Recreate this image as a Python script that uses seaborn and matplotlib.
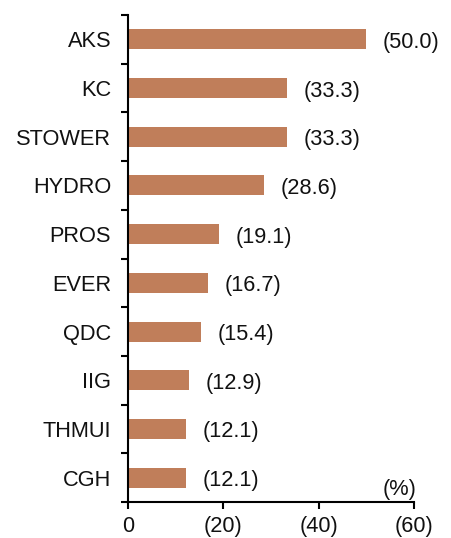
import matplotlib
matplotlib.use("Agg")
import matplotlib.pyplot as plt
import seaborn as sns
import pandas as pd
import numpy as np

categories = ["AKS", "KC", "STOWER", "HYDRO", "PROS", "EVER", "QDC", "IIG", "THMUI", "CGH"]
values = [50.0, 33.3, 33.3, 28.6, 19.1, 16.7, 15.4, 12.9, 12.1, 12.1]
xticks = [0, 20, 40, 60]
xtick_labels = ["0", "(20)", "(40)", "(60)"]

sns.set_theme(style="white")
plt.rcParams['font.family'] = ['Liberation Sans', 'DejaVu Sans']

df = pd.DataFrame({"cat": categories, "val": values})
FS = 15.7

fig = plt.figure(figsize=(4.52, 5.38), dpi=100)
ax = fig.add_axes([0.283, 0.067, 0.633, 0.905])
sns.barplot(data=df, x="val", y="cat", orient="h", color="#C07E5A", saturation=1,
            width=0.41, ax=ax, edgecolor="none")

ax.set_xlim(0, 60)
ax.set_ylim(len(categories) - 0.5, -0.5)
ax.set_xticks(xticks)
ax.set_xticklabels(xtick_labels, fontsize=FS, color="#111111")
ax.set_xlabel("")
ax.set_ylabel("")
ax.tick_params(axis="y", which="major", length=0, labelsize=FS, labelcolor="#111111", pad=12)
ax.set_yticks(np.arange(-0.5, len(categories)), minor=True)
ax.tick_params(axis="y", which="minor", length=5, width=1.5, color="black", direction="out", left=True)
ax.tick_params(axis="x", which="major", length=5, width=1.5, color="black", direction="out", bottom=True, pad=5)

for s in ["top", "right"]:
    ax.spines[s].set_visible(False)
for s in ["left", "bottom"]:
    ax.spines[s].set_color("black")
    ax.spines[s].set_linewidth(1.5)

for i, v in enumerate(values):
    ax.text(v + 3.5, i + 0.06, f"({v:.1f})", va="center", ha="left", fontsize=FS, color="#111111")

ax.text(60.5, 9.45, "(%)", ha="right", va="bottom", fontsize=FS, color="#111111")

fig.savefig("out.png", dpi=100)
